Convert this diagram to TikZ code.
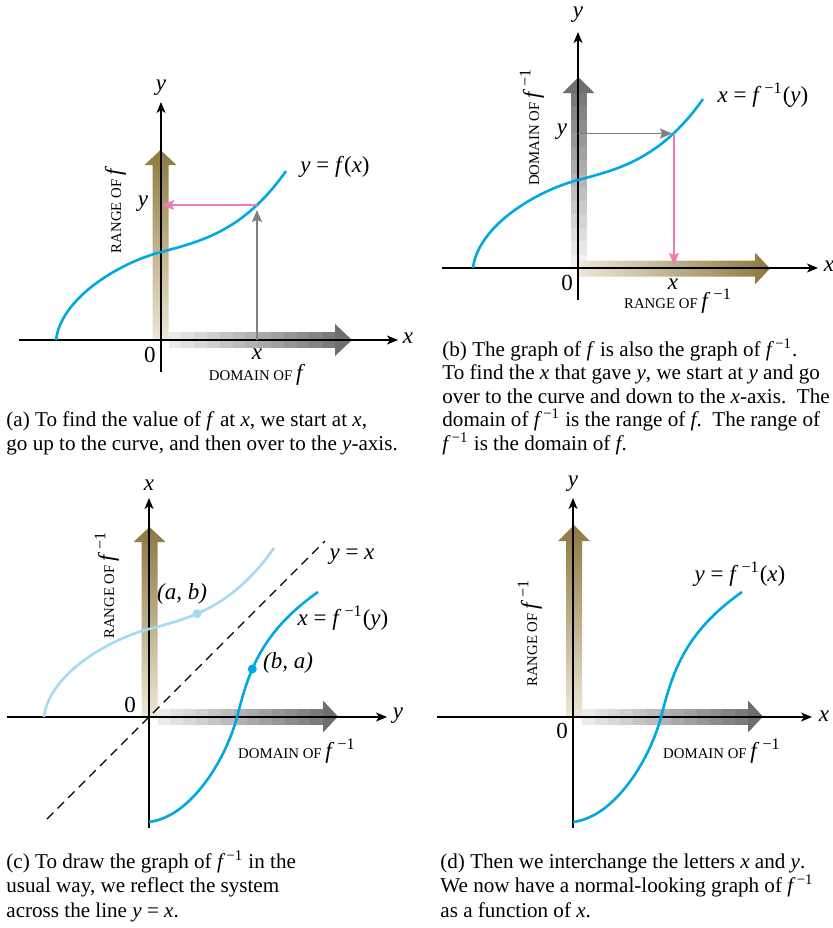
\documentclass[tikz,border=0pt]{standalone}
\usepackage{fontspec}
\setmainfont{Liberation Serif}
\usetikzlibrary{arrows.meta,calc}
\definecolor{brownD}{RGB}{140,120,62}
\definecolor{brownL}{RGB}{238,231,214}
\definecolor{curveblue}{RGB}{0,168,228}
\definecolor{lightblue}{RGB}{165,218,243}
\definecolor{pinkline}{RGB}{240,125,175}
\definecolor{thingray}{RGB}{128,128,128}
\newcommand{\finv}{\textit{f}\kern0.6pt\textsuperscript{−1}}
\newcommand{\finvL}{\textit{f}\kern1.6pt\textsuperscript{−1}}
% horizontal banded gray arrow: xl, xh, xt, cy
\newcommand{\bandH}[4]{%
  \foreach \i in {0,...,12}{%
    \pgfmathsetmacro\xa{#1+(#2-#1)*\i/13}%
    \pgfmathsetmacro\xb{#1+(#2-#1)*(\i+1)/13+0.8}%
    \pgfmathsetmacro\gv{8+44*\i/12}%
    \fill[black!\gv!white] (\xa,#4-8) rectangle (\xb,#4+8);
  }%
  \fill[black!57] (#2,#4-16) -- (#3,#4) -- (#2,#4+16) -- cycle;
}
% vertical banded gray arrow: cx, yb, yh, yt
\newcommand{\bandV}[4]{%
  \foreach \i in {0,...,12}{%
    \pgfmathsetmacro\ya{#2+(#3-#2)*\i/13}%
    \pgfmathsetmacro\yb{#2+(#3-#2)*(\i+1)/13-0.8}%
    \pgfmathsetmacro\gv{5+47*\i/12}%
    \fill[black!\gv!white] (#1-8,\ya) rectangle (#1+8,\yb);
  }%
  \fill[black!57] (#1-16,#3) -- (#1,#4) -- (#1+16,#3) -- cycle;
}
% brown vertical arrow: cx, yb, yh, yt
\newcommand{\brownV}[4]{%
  \shade[top color=brownD,bottom color=brownL]
    (#1-8,#2) -- (#1-8,#3) -- (#1-16,#3) -- (#1,#4) -- (#1+16,#3) -- (#1+8,#3) -- (#1+8,#2) -- cycle;
}
% brown horizontal arrow: xl, xh, xt, cy
\newcommand{\brownH}[4]{%
  \shade[left color=brownL,right color=brownD]
    (#1,#4-8) -- (#2,#4-8) -- (#2,#4-16) -- (#3,#4) -- (#2,#4+16) -- (#2,#4+8) -- (#1,#4+8) -- cycle;
}
\newcommand{\fpath}{(-105,0) .. controls (-100,42) and (-42,77) .. (0,88)
  -- plot[domain=0:125,samples=40,variable=\u] ({\u},{88+0.262*\u+3.0875*(\u/50)^3})}
\tikzset{
  axis/.style={line width=0.7pt,-{Stealth[length=5.5pt,width=4.5pt,inset=1.5pt]}},
  fcurve/.style={line width=1.3pt,color=curveblue},
  fcurvelight/.style={line width=1.3pt,color=lightblue},
  grayarr/.style={line width=0.55pt,color=thingray,-{Stealth[length=6pt,width=5pt,inset=1pt]}},
  pinkarr/.style={line width=0.55pt,color=pinkline,-{Stealth[length=6pt,width=5pt,inset=1pt]}},
  lab/.style={font=\fontsize{11.5}{13}\selectfont,inner sep=0pt},
  caps/.style={font=\fontsize{7.4}{8.5}\selectfont,inner sep=0pt},
  capt/.style={font=\fontsize{10.55}{12}\selectfont,inner sep=0pt,anchor=base west},
  dot/.style={circle,inner sep=0pt,minimum size=4.5pt},
}
\begin{document}
\begin{tikzpicture}[x=0.5pt,y=-0.5pt]
\useasboundingbox[fill=white] (0,0) rectangle (833,928);

%================ (a) =================
\brownV{160.5}{340}{165}{150}
\bandH{168.5}{335}{352}{340}
\coordinate (aL) at (19,340); \coordinate (aR) at (398,340);
\coordinate (aB) at (161,372); \coordinate (aT) at (161,102);
\draw[axis] (aL) -- (aR);
\draw[axis] (aB) -- (aT);
\begin{scope}[shift={(161,340)},yscale=-1]
  \draw[fcurve] \fpath;
\end{scope}
\coordinate (aP) at (257,205); \coordinate (aQ) at (257,340); \coordinate (aY) at (162,205);
\draw[grayarr,shorten >=2.5pt] (aQ) -- (aP);
\draw[pinkarr] (aP) -- (aY);
\node[lab] (ax) at (408,338) {\textit{x}};
\node[lab] (ay) at (161,88) {\textit{y}};
\node[lab] (a0) at (150,355) {0};
\node[lab] (axx) at (257,354) {\textit{x}};
\node[lab] (ayy) at (143,204) {\textit{y}};
\node[caps,anchor=base] (adom) at (257,380) {DOMAIN OF \textit{\fontsize{11.5}{13}\selectfont f}};
\node[caps,rotate=90,anchor=base] (aran) at (121,210) {RANGE OF \textit{\fontsize{11.5}{13}\selectfont f}};
\node[lab] (aeq) at (335,167) {\textit{y} = \textit{f}(\textit{x})};

%================ (b) =================
\bandV{578.5}{268}{93}{77}
\brownH{578}{755}{770}{268.5}
\coordinate (bL) at (442,268); \coordinate (bR) at (818,268);
\coordinate (bB) at (578,300); \coordinate (bT) at (578,32);
\draw[axis] (bL) -- (bR);
\draw[axis] (bB) -- (bT);
\begin{scope}[shift={(578,268)},yscale=-1]
  \draw[fcurve] \fpath;
\end{scope}
\coordinate (bY) at (578,133.5); \coordinate (bP) at (674,133.5); \coordinate (bX) at (674,268);
\draw[grayarr,shorten >=1pt] (bY) -- (bP);
\draw[pinkarr,shorten >=1.5pt] (bP) -- (bX);
\node[lab] (bx) at (829,266) {\textit{x}};
\node[lab] (by) at (578,15) {\textit{y}};
\node[lab] (b0) at (567,283) {0};
\node[lab] (bxx) at (673,284) {\textit{x}};
\node[lab] (byy) at (562,132) {\textit{y}};
\node[caps,anchor=base] (bran) at (678,308) {RANGE OF {\fontsize{11.5}{13}\selectfont\finvL}};
\node[caps,rotate=90,anchor=base] (bdom) at (539,127) {DOMAIN OF {\fontsize{11.5}{13}\selectfont\finvL}};
\node[lab] (beq) at (763,95) {\textit{x} = \finvL(\textit{y})};

%================ (c) =================
\brownV{149.5}{717}{542}{527}
\bandH{157.5}{323}{338}{716.5}
\coordinate (cL) at (7,717); \coordinate (cR) at (387,717);
\coordinate (cB) at (149,828); \coordinate (cT) at (149,498);
\draw[axis] (cL) -- (cR);
\draw[axis] (cB) -- (cT);
\coordinate (dl1) at (47,819); \coordinate (dl2) at (325,541);
\draw[line width=0.6pt,dash pattern=on 4.5pt off 3pt] (dl1) -- (dl2);
\begin{scope}[shift={(149,717)},yscale=-1]
  \draw[fcurvelight] \fpath;
\end{scope}
\begin{scope}[shift={(149,717)},cm={0,1,1,0,(0,0)},yscale=-1]
  \draw[fcurve] \fpath;
\end{scope}
\node[dot,fill=lightblue] (cab) at (197,613.7) {};
\node[dot,fill=curveblue] (cba) at (252.3,669) {};
\node[lab] (cy) at (398,716) {\textit{y}};
\node[lab] (cx) at (149,485) {\textit{x}};
\node[lab] (c0) at (130,705) {0};
\node[lab] (cablab) at (182,594) {\textit{(a, b)}};
\node[lab] (cbalab) at (288,663) {\textit{(b, a)}};
\node[lab] (cyx) at (352,557) {\textit{y} = \textit{x}};
\node[lab] (ceq) at (343,618) {\textit{x} = \finvL(\textit{y})};
\node[caps,anchor=base] (cdom) at (297,758) {DOMAIN OF {\fontsize{11.5}{13}\selectfont\finvL}};
\node[caps,rotate=90,anchor=base] (cran) at (114,585) {RANGE OF {\fontsize{11.5}{13}\selectfont\finvL}};

%================ (d) =================
\brownV{574}{717}{541}{525}
\bandH{582}{748}{763}{716.5}
\coordinate (dL) at (437,717); \coordinate (dR) at (812,717);
\coordinate (dB) at (573,828); \coordinate (dT) at (573,498);
\draw[axis] (dL) -- (dR);
\draw[axis] (dB) -- (dT);
\begin{scope}[shift={(573,717)},cm={0,1,1,0,(0,0)},yscale=-1]
  \draw[fcurve] \fpath;
\end{scope}
\node[lab] (dx) at (824,716) {\textit{x}};
\node[lab] (dy) at (573,484) {\textit{y}};
\node[lab] (d0) at (562,731) {0};
\node[lab] (deq) at (740,574) {\textit{y} = \finvL(\textit{x})};
\node[caps,anchor=base] (ddom) at (722,758) {DOMAIN OF {\fontsize{11.5}{13}\selectfont\finvL}};
\node[caps,rotate=90,anchor=base] (dran) at (537,633) {RANGE OF {\fontsize{11.5}{13}\selectfont\finvL}};

%================ captions =================
\node[capt] (ca1) at (6,426) {(a) To find the value of \textit{f} at \textit{x}, we start at \textit{x},};
\node[capt] (ca2) at (6,450) {go up to the curve, and then over to the \textit{y}-axis.};
\node[capt] (cb1) at (442,356) {(b) The graph of \textit{f} is also the graph of \finv.};
\node[capt] (cb2) at (442,379.5) {To find the \textit{x} that gave \textit{y}, we start at \textit{y} and go};
\node[capt] (cb3) at (442,403) {over to the curve and down to the \textit{x}-axis.\ \ The};
\node[capt] (cb4) at (442,426.5) {domain of \finv{} is the range of \textit{f}.\ \ The range of};
\node[capt] (cb5) at (442,450) {\finv{} is the domain of \textit{f}.};
\node[capt] (cc1) at (6,868) {(c) To draw the graph of \finv{} in the};
\node[capt] (cc2) at (6,892) {usual way, we reflect the system};
\node[capt] (cc3) at (6,917) {across the line \textit{y} = \textit{x}.};
\node[capt] (cd1) at (440,868) {(d) Then we interchange the letters \textit{x} and \textit{y}.};
\node[capt] (cd2) at (440,892) {We now have a normal-looking graph of \finv};
\node[capt] (cd3) at (440,917) {as a function of \textit{x}.};
\end{tikzpicture}
\end{document}
